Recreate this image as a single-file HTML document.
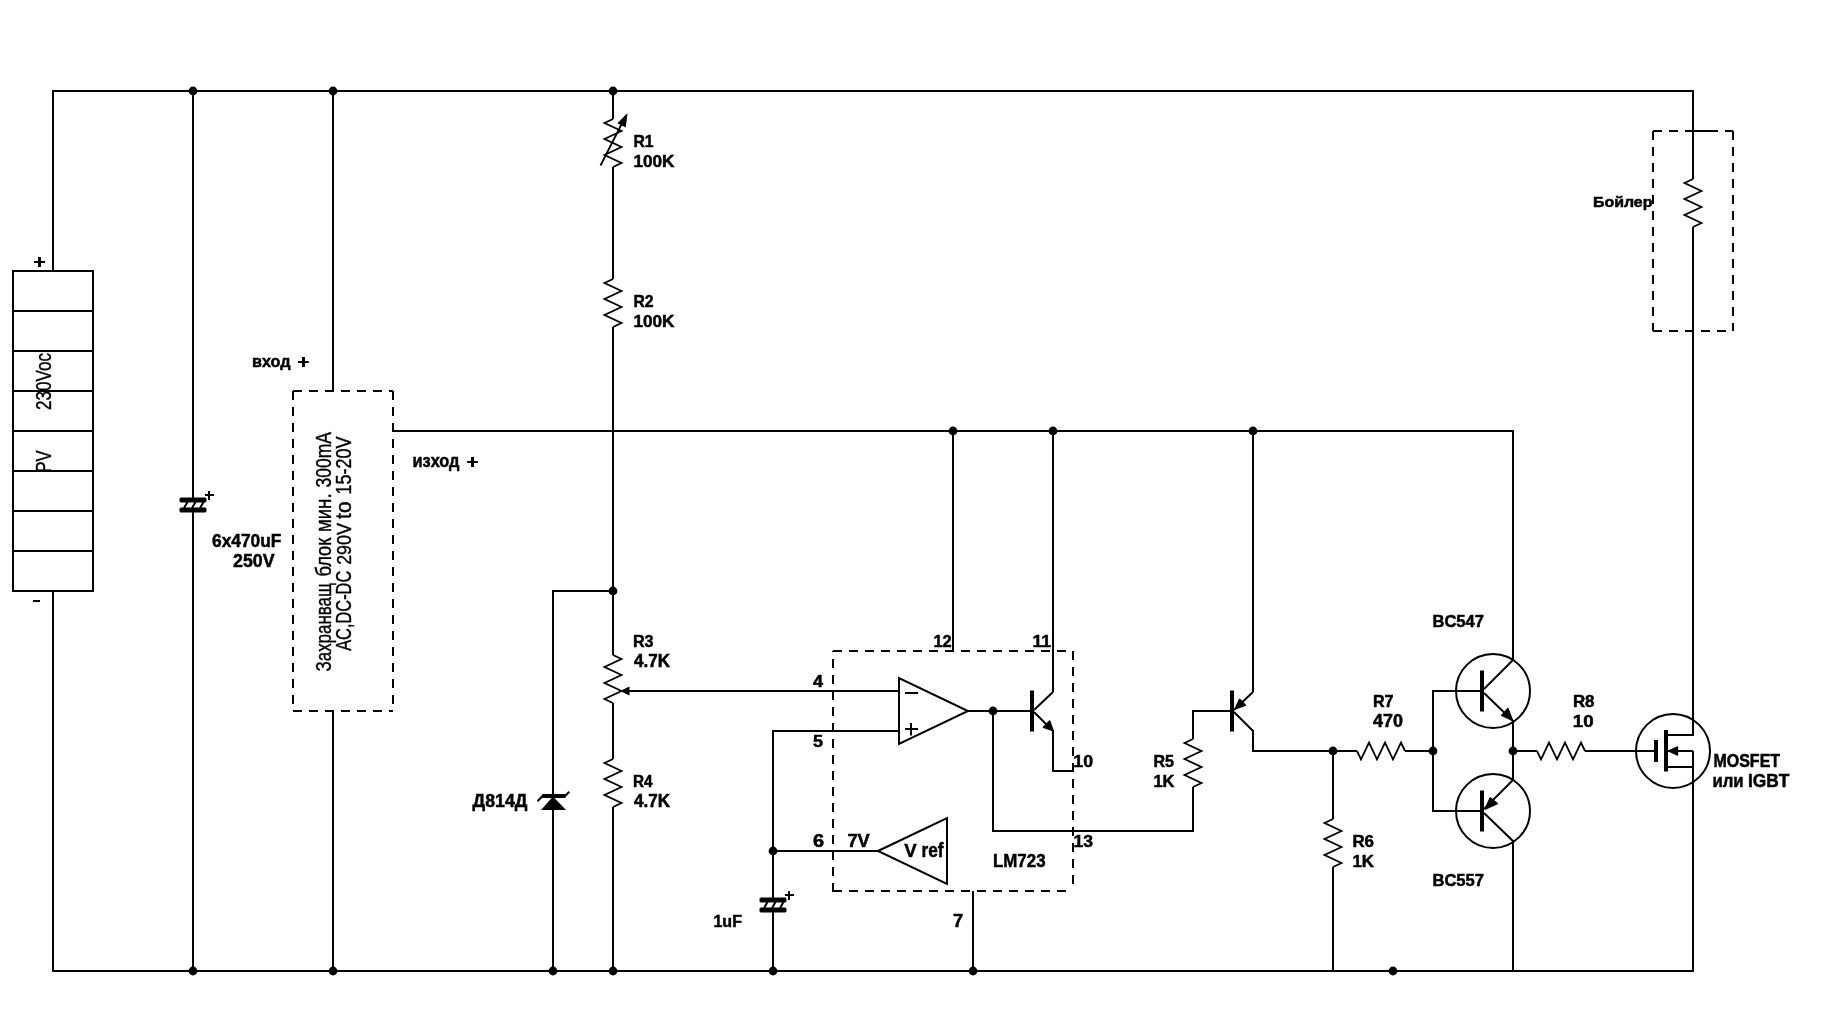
<!DOCTYPE html>
<html><head><meta charset="utf-8"><title>schematic</title>
<style>
html,body{margin:0;padding:0;background:#fff;}
svg{display:block;filter:grayscale(1);}
text{font-family:"Liberation Sans", sans-serif;fill:#000;}
</style></head><body>
<svg width="1829" height="1029" viewBox="0 0 1829 1029">
<rect width="1829" height="1029" fill="#fff"/>
<g stroke="#000" fill="none" stroke-linecap="butt">
<path d="M53,271 V91 H1693 V179" stroke-width="2" fill="none" shape-rendering="crispEdges" />
<path d="M53,591 V971 H1693 V751" stroke-width="2" fill="none" shape-rendering="crispEdges" />
<path d="M1693,227 V735 H1668" stroke-width="2" fill="none" shape-rendering="crispEdges" />
<line x1="1668" y1="751" x2="1693" y2="751" stroke-width="2" shape-rendering="crispEdges"/>
<line x1="1668" y1="767" x2="1693" y2="767" stroke-width="2" shape-rendering="crispEdges"/>
<rect x="13" y="271" width="80" height="320" fill="none" stroke-width="2" shape-rendering="crispEdges"/>
<line x1="13" y1="311" x2="93" y2="311" stroke-width="2" shape-rendering="crispEdges"/>
<line x1="13" y1="351" x2="93" y2="351" stroke-width="2" shape-rendering="crispEdges"/>
<line x1="13" y1="391" x2="93" y2="391" stroke-width="2" shape-rendering="crispEdges"/>
<line x1="13" y1="431" x2="93" y2="431" stroke-width="2" shape-rendering="crispEdges"/>
<line x1="13" y1="471" x2="93" y2="471" stroke-width="2" shape-rendering="crispEdges"/>
<line x1="13" y1="511" x2="93" y2="511" stroke-width="2" shape-rendering="crispEdges"/>
<line x1="13" y1="551" x2="93" y2="551" stroke-width="2" shape-rendering="crispEdges"/>
<rect x="34" y="261" width="11" height="2" fill="#000" stroke="none"/>
<rect x="38" y="257" width="3" height="10" fill="#000" stroke="none"/>
<rect x="33" y="600" width="7" height="2" fill="#000" stroke="none"/>
<line x1="193" y1="91" x2="193" y2="498" stroke-width="2" shape-rendering="crispEdges"/>
<line x1="193" y1="512" x2="193" y2="971" stroke-width="2" shape-rendering="crispEdges"/>
<rect x="180" y="498" width="26" height="4" rx="0.8" fill="#000"/>
<rect x="180" y="508" width="26" height="4" rx="0.8" fill="#000"/>
<line x1="184" y1="508.3" x2="187.6" y2="501.7" stroke-width="2"/>
<line x1="192" y1="508.3" x2="195.6" y2="501.7" stroke-width="2"/>
<line x1="200" y1="508.3" x2="203.6" y2="501.7" stroke-width="2"/>
<rect x="205" y="494" width="9" height="2" fill="#000" stroke="none"/>
<rect x="208" y="491" width="2" height="9" fill="#000" stroke="none"/>
<line x1="333" y1="91" x2="333" y2="391" stroke-width="2" shape-rendering="crispEdges"/>
<line x1="333" y1="711" x2="333" y2="971" stroke-width="2" shape-rendering="crispEdges"/>
<line x1="293" y1="391" x2="393" y2="391" stroke-width="2" stroke-dasharray="9 7" stroke-dashoffset="0" shape-rendering="crispEdges"/>
<line x1="293" y1="711" x2="393" y2="711" stroke-width="2" stroke-dasharray="9 7" stroke-dashoffset="0" shape-rendering="crispEdges"/>
<line x1="293" y1="391" x2="293" y2="711" stroke-width="2" stroke-dasharray="9 7" stroke-dashoffset="0" shape-rendering="crispEdges"/>
<line x1="393" y1="391" x2="393" y2="711" stroke-width="2" stroke-dasharray="9 7" stroke-dashoffset="0" shape-rendering="crispEdges"/>
<path d="M393,431 H1513 V660" stroke-width="2" fill="none" shape-rendering="crispEdges" />
<line x1="613" y1="91" x2="613" y2="119" stroke-width="2" shape-rendering="crispEdges"/>
<path d="M613,119 L604.5,123 L621.5,131 L604.5,139 L621.5,147 L604.5,155 L621.5,163 L613,167" stroke-width="1.8" fill="none" stroke-linejoin="miter"/>
<line x1="613" y1="167" x2="613" y2="279" stroke-width="2" shape-rendering="crispEdges"/>
<path d="M613,279 L604.5,283 L621.5,291 L604.5,299 L621.5,307 L604.5,315 L621.5,323 L613,327" stroke-width="1.8" fill="none" stroke-linejoin="miter"/>
<line x1="613" y1="327" x2="613" y2="655" stroke-width="2" shape-rendering="crispEdges"/>
<path d="M613,655 L621.5,659 L604.5,667 L621.5,675 L604.5,683 L621.5,691 L604.5,699 L613,703" stroke-width="1.8" fill="none" stroke-linejoin="miter"/>
<line x1="613" y1="703" x2="613" y2="759" stroke-width="2" shape-rendering="crispEdges"/>
<path d="M613,759 L604.5,763 L621.5,771 L604.5,779 L621.5,787 L604.5,795 L621.5,803 L613,807" stroke-width="1.8" fill="none" stroke-linejoin="miter"/>
<line x1="613" y1="807" x2="613" y2="971" stroke-width="2" shape-rendering="crispEdges"/>
<line x1="600.5" y1="165.5" x2="625.5" y2="116.5" stroke-width="1.8"/>
<polygon points="627.6,113 617.4,123.2 625.7,127.6" fill="#000" stroke="none"/>
<path d="M613,591 H553 V794" stroke-width="2" fill="none" shape-rendering="crispEdges" />
<line x1="553" y1="810" x2="553" y2="971" stroke-width="2" shape-rendering="crispEdges"/>
<rect x="542.5" y="794" width="23" height="4" fill="#000" stroke="none"/>
<line x1="537.5" y1="801.2" x2="543.5" y2="795" stroke-width="2"/>
<line x1="564.5" y1="796.5" x2="569.3" y2="791.7" stroke-width="2"/>
<polygon points="553,796.5 541,810 566,810" fill="#000" stroke="none"/>
<line x1="629" y1="691" x2="899" y2="691" stroke-width="2" shape-rendering="crispEdges"/>
<polygon points="620,691 629.5,686.5 629.5,695.5" fill="#000" stroke="none"/>
<path d="M899,731 H773 V898" stroke-width="2" fill="none" shape-rendering="crispEdges" />
<line x1="773" y1="912" x2="773" y2="971" stroke-width="2" shape-rendering="crispEdges"/>
<rect x="760" y="898" width="26" height="4" rx="0.8" fill="#000"/>
<rect x="760" y="908" width="26" height="4" rx="0.8" fill="#000"/>
<line x1="764" y1="908.3" x2="767.6" y2="901.7" stroke-width="2"/>
<line x1="772" y1="908.3" x2="775.6" y2="901.7" stroke-width="2"/>
<line x1="780" y1="908.3" x2="783.6" y2="901.7" stroke-width="2"/>
<rect x="785" y="894" width="9" height="2" fill="#000" stroke="none"/>
<rect x="788" y="891" width="2" height="9" fill="#000" stroke="none"/>
<line x1="773" y1="851" x2="878" y2="851" stroke-width="2" shape-rendering="crispEdges"/>
<polygon points="899,678 899,744 968,711" fill="none" stroke="#000" stroke-width="2" stroke-linejoin="miter"/>
<rect x="905" y="692" width="13" height="2" fill="#000" stroke="none"/>
<rect x="905" y="728" width="13" height="2" fill="#000" stroke="none"/>
<rect x="910" y="723" width="2" height="12.5" fill="#000" stroke="none"/>
<line x1="968" y1="711" x2="1030" y2="711" stroke-width="2" shape-rendering="crispEdges"/>
<polygon points="878,851 947,818 947,884" fill="none" stroke="#000" stroke-width="2" stroke-linejoin="miter"/>
<path d="M993,711 V831 H1193 V787" stroke-width="2" fill="none" shape-rendering="crispEdges" />
<path d="M1193,739 L1184.5,743 L1201.5,751 L1184.5,759 L1201.5,767 L1184.5,775 L1201.5,783 L1193,787" stroke-width="1.8" fill="none" stroke-linejoin="miter"/>
<path d="M1193,739 V711 H1230" stroke-width="2" fill="none" shape-rendering="crispEdges" />
<rect x="1030" y="690.5" width="4" height="41" fill="#000" stroke="none"/>
<line x1="1034" y1="710" x2="1053" y2="692" stroke-width="2"/>
<line x1="1053" y1="431" x2="1053" y2="692" stroke-width="2" shape-rendering="crispEdges"/>
<line x1="1034" y1="712" x2="1053" y2="731" stroke-width="2"/>
<path d="M1053,730 V771 H1073" stroke-width="2" fill="none" shape-rendering="crispEdges" />
<polygon points="1053,730.5 1043.5,727.2 1049.6,721.1" fill="#000" stroke="#000" stroke-width="1.6" stroke-linejoin="round"/>
<line x1="953" y1="431" x2="953" y2="651" stroke-width="2" shape-rendering="crispEdges"/>
<line x1="973" y1="891" x2="973" y2="971" stroke-width="2" shape-rendering="crispEdges"/>
<line x1="833" y1="651" x2="1073" y2="651" stroke-width="2" stroke-dasharray="9 7" stroke-dashoffset="0" shape-rendering="crispEdges"/>
<line x1="1073" y1="651" x2="1073" y2="891" stroke-width="2" stroke-dasharray="9 7" stroke-dashoffset="0" shape-rendering="crispEdges"/>
<line x1="833" y1="891" x2="1073" y2="891" stroke-width="2" stroke-dasharray="9 7" stroke-dashoffset="0" shape-rendering="crispEdges"/>
<line x1="833" y1="892" x2="833" y2="651" stroke-width="2" stroke-dasharray="9 7" stroke-dashoffset="0" shape-rendering="crispEdges"/>
<rect x="1230" y="690.5" width="4" height="41" fill="#000" stroke="none"/>
<line x1="1253" y1="692" x2="1234" y2="710" stroke-width="2"/>
<line x1="1253" y1="431" x2="1253" y2="692" stroke-width="2" shape-rendering="crispEdges"/>
<line x1="1234" y1="712" x2="1253" y2="731" stroke-width="2"/>
<path d="M1253,730 V751 H1357" stroke-width="2" fill="none" shape-rendering="crispEdges" />
<polygon points="1235.3,708.8 1239.6,699.4 1245.4,705.3" fill="#000" stroke="#000" stroke-width="1.6" stroke-linejoin="round"/>
<line x1="1333" y1="751" x2="1333" y2="819" stroke-width="2" shape-rendering="crispEdges"/>
<path d="M1333,819 L1324.5,823 L1341.5,831 L1324.5,839 L1341.5,847 L1324.5,855 L1341.5,863 L1333,867" stroke-width="1.8" fill="none" stroke-linejoin="miter"/>
<line x1="1333" y1="867" x2="1333" y2="971" stroke-width="2" shape-rendering="crispEdges"/>
<path d="M1357,751 L1361,759.5 L1369,742.5 L1377,759.5 L1385,742.5 L1393,759.5 L1401,742.5 L1405,751" stroke-width="1.8" fill="none" stroke-linejoin="miter"/>
<line x1="1405" y1="751" x2="1433" y2="751" stroke-width="2" shape-rendering="crispEdges"/>
<path d="M1480,691 H1433 V811 H1480" stroke-width="2" fill="none" shape-rendering="crispEdges" />
<circle cx="1493" cy="691" r="37" fill="none" stroke-width="2"/>
<rect x="1480" y="670.5" width="4" height="41" fill="#000" stroke="none"/>
<line x1="1484" y1="689" x2="1513" y2="660" stroke-width="2"/>
<line x1="1484" y1="693" x2="1513" y2="721" stroke-width="2"/>
<polygon points="1512.5,720.3 1501.6,715.4 1507.9,708.6" fill="#000" stroke="#000" stroke-width="1.4" stroke-linejoin="round"/>
<line x1="1513" y1="720" x2="1513" y2="780" stroke-width="2" shape-rendering="crispEdges"/>
<circle cx="1493" cy="811" r="37" fill="none" stroke-width="2"/>
<rect x="1480" y="790.5" width="4" height="41" fill="#000" stroke="none"/>
<line x1="1513" y1="780" x2="1484" y2="809" stroke-width="2"/>
<line x1="1484" y1="813" x2="1513" y2="841" stroke-width="2"/>
<polygon points="1485.2,809 1490.2,797.9 1497.4,803.5" fill="#000" stroke="#000" stroke-width="1.4" stroke-linejoin="round"/>
<line x1="1513" y1="840" x2="1513" y2="971" stroke-width="2" shape-rendering="crispEdges"/>
<line x1="1513" y1="751" x2="1537" y2="751" stroke-width="2" shape-rendering="crispEdges"/>
<path d="M1537,751 L1541,759.5 L1549,742.5 L1557,759.5 L1565,742.5 L1573,759.5 L1581,742.5 L1585,751" stroke-width="1.8" fill="none" stroke-linejoin="miter"/>
<line x1="1585" y1="751" x2="1654" y2="751" stroke-width="2" shape-rendering="crispEdges"/>
<circle cx="1673" cy="751" r="37" fill="none" stroke-width="2"/>
<rect x="1654" y="740" width="4" height="22" fill="#000" stroke="none"/>
<rect x="1664" y="730" width="4" height="41.5" fill="#000" stroke="none"/>
<polygon points="1669,751 1677.5,747 1677.5,755" fill="#000" stroke="#000" stroke-width="1.4" stroke-linejoin="round"/>
<path d="M1693,179 L1684.5,183 L1701.5,191 L1684.5,199 L1701.5,207 L1684.5,215 L1701.5,223 L1693,227" stroke-width="1.8" fill="none" stroke-linejoin="miter"/>
<line x1="1653" y1="131" x2="1662" y2="131" stroke-width="2" shape-rendering="crispEdges"/>
<line x1="1669" y1="131" x2="1678" y2="131" stroke-width="2" shape-rendering="crispEdges"/>
<line x1="1685" y1="131" x2="1717.5" y2="131" stroke-width="2" shape-rendering="crispEdges"/>
<line x1="1724.5" y1="131" x2="1733" y2="131" stroke-width="2" shape-rendering="crispEdges"/>
<line x1="1653" y1="331" x2="1733" y2="331" stroke-width="2" stroke-dasharray="9 7" stroke-dashoffset="0" shape-rendering="crispEdges"/>
<line x1="1653" y1="131" x2="1653" y2="331" stroke-width="2" stroke-dasharray="9 7" stroke-dashoffset="0" shape-rendering="crispEdges"/>
<line x1="1733" y1="131" x2="1733" y2="331" stroke-width="2" stroke-dasharray="9 7" stroke-dashoffset="0" shape-rendering="crispEdges"/>
<circle cx="193" cy="91" r="4.4" fill="#000" stroke="none"/>
<circle cx="333" cy="91" r="4.4" fill="#000" stroke="none"/>
<circle cx="613" cy="91" r="4.4" fill="#000" stroke="none"/>
<circle cx="193" cy="971" r="4.4" fill="#000" stroke="none"/>
<circle cx="333" cy="971" r="4.4" fill="#000" stroke="none"/>
<circle cx="553" cy="971" r="4.4" fill="#000" stroke="none"/>
<circle cx="613" cy="971" r="4.4" fill="#000" stroke="none"/>
<circle cx="773" cy="971" r="4.4" fill="#000" stroke="none"/>
<circle cx="973" cy="971" r="4.4" fill="#000" stroke="none"/>
<circle cx="1393" cy="971" r="4.4" fill="#000" stroke="none"/>
<circle cx="613" cy="591" r="4.4" fill="#000" stroke="none"/>
<circle cx="953" cy="431" r="4.4" fill="#000" stroke="none"/>
<circle cx="1053" cy="431" r="4.4" fill="#000" stroke="none"/>
<circle cx="1253" cy="431" r="4.4" fill="#000" stroke="none"/>
<circle cx="773" cy="851" r="4.4" fill="#000" stroke="none"/>
<circle cx="993" cy="711" r="4.4" fill="#000" stroke="none"/>
<circle cx="1333" cy="751" r="4.4" fill="#000" stroke="none"/>
<circle cx="1433" cy="751" r="4.4" fill="#000" stroke="none"/>
<circle cx="1513" cy="751" r="4.4" fill="#000" stroke="none"/>
<text transform="translate(50.9,410.025) rotate(-90) scale(0.7736,1)" font-size="22.109" style="font-weight:normal;font-style:normal;stroke-width:0.4">230Voc</text>
<text transform="translate(50.9,472.569) rotate(-90) scale(0.7376,1)" font-size="22.429" style="font-weight:normal;font-style:normal;stroke-width:0.4">PV</text>
<text transform="translate(331,671.498) rotate(-90) scale(0.7906,1)" font-size="21.429" style="font-weight:normal;font-style:normal;stroke-width:0.4">Захранващ</text>
<text transform="translate(331,576.551) rotate(-90) scale(0.8054,1)" font-size="22.830" style="font-weight:normal;font-style:normal;stroke-width:0.4">блок</text>
<text transform="translate(331,532.103) rotate(-90) scale(0.8171,1)" font-size="22.830" style="font-weight:normal;font-style:normal;stroke-width:0.4">мин.</text>
<text transform="translate(331,487.527) rotate(-90) scale(0.8143,1)" font-size="21.524" style="font-weight:normal;font-style:normal;stroke-width:0.4">300mA</text>
<text transform="translate(351,650.811) rotate(-90) scale(0.7751,1)" font-size="21.143" style="font-weight:normal;font-style:normal;stroke-width:0.4">AC,DC-DC</text>
<text transform="translate(351,564.847) rotate(-90) scale(0.8485,1)" font-size="21.143" style="font-weight:normal;font-style:normal;stroke-width:0.4">290V</text>
<text transform="translate(351,518.906) rotate(-90) scale(0.9305,1)" font-size="22.453" style="font-weight:normal;font-style:normal;stroke-width:0.4">to</text>
<text transform="translate(351,494.441) rotate(-90) scale(0.8489,1)" font-size="21.143" style="font-weight:normal;font-style:normal;stroke-width:0.4">15-20V</text>
<text transform="translate(211.985,547) scale(0.9348,1)" font-size="18.571" style="font-weight:bold;font-style:normal;stroke-width:0.5">6x470uF</text>
<text transform="translate(233.000,567) scale(0.9927,1)" font-size="17.919" style="font-weight:bold;font-style:normal;stroke-width:0.5">250V</text>
<text transform="translate(251.983,366.8) scale(0.9342,1)" font-size="17.328" style="font-weight:bold;font-style:normal;stroke-width:0.5">вход</text>
<rect x="298" y="361" width="10.7" height="2" fill="#000" stroke="none"/>
<rect x="302" y="357" width="3" height="10" fill="#000" stroke="none"/>
<text transform="translate(412.472,466.7) scale(0.9110,1)" font-size="17.963" style="font-weight:bold;font-style:normal;stroke-width:0.5">изход</text>
<rect x="467.1" y="461" width="10.7" height="2" fill="#000" stroke="none"/>
<rect x="471" y="457" width="3" height="10" fill="#000" stroke="none"/>
<text transform="translate(633.399,147) scale(0.9388,1)" font-size="16.783" style="font-weight:bold;font-style:normal;stroke-width:0.5">R1</text>
<text transform="translate(633.472,167) scale(0.9905,1)" font-size="17.343" style="font-weight:bold;font-style:normal;stroke-width:0.5">100K</text>
<text transform="translate(633.410,307) scale(0.9524,1)" font-size="16.543" style="font-weight:bold;font-style:normal;stroke-width:0.5">R2</text>
<text transform="translate(633.472,327) scale(0.9905,1)" font-size="17.343" style="font-weight:bold;font-style:normal;stroke-width:0.5">100K</text>
<text transform="translate(632.911,647) scale(0.9765,1)" font-size="16.543" style="font-weight:bold;font-style:normal;stroke-width:0.5">R3</text>
<text transform="translate(633.940,667) scale(0.9718,1)" font-size="17.594" style="font-weight:bold;font-style:normal;stroke-width:0.5">4.7K</text>
<text transform="translate(632.926,787) scale(0.9119,1)" font-size="16.783" style="font-weight:bold;font-style:normal;stroke-width:0.5">R4</text>
<text transform="translate(633.940,807) scale(0.9718,1)" font-size="17.594" style="font-weight:bold;font-style:normal;stroke-width:0.5">4.7K</text>
<text transform="translate(472.502,806.5) scale(0.9832,1)" font-size="18.081" style="font-weight:bold;font-style:normal;stroke-width:0.5">Д814Д</text>
<text transform="translate(813.000,686.5) scale(1.0676,1)" font-size="16.878" style="font-weight:bold;font-style:normal;stroke-width:0.5">4</text>
<text transform="translate(813.000,746.5) scale(1.0719,1)" font-size="16.809" style="font-weight:bold;font-style:normal;stroke-width:0.5">5</text>
<text transform="translate(813.000,846.5) scale(1.1084,1)" font-size="18.081" style="font-weight:bold;font-style:normal;stroke-width:0.5">6</text>
<text transform="translate(847.382,846.6) scale(0.9906,1)" font-size="18.493" style="font-weight:bold;font-style:normal;stroke-width:0.5">7V</text>
<text transform="translate(904.285,856.6) scale(1.0126,1)" font-size="18.409" style="font-weight:bold;font-style:normal;stroke-width:0.5">V</text>
<text transform="translate(921.465,856.6) scale(0.8856,1)" font-size="19.484" style="font-weight:bold;font-style:normal;stroke-width:0.5">ref</text>
<text transform="translate(933.425,646.5) scale(0.9909,1)" font-size="16.569" style="font-weight:bold;font-style:normal;stroke-width:0.5">12</text>
<text transform="translate(1032.382,646.5) scale(1.0499,1)" font-size="16.809" style="font-weight:bold;font-style:normal;stroke-width:0.5">11</text>
<text transform="translate(1073.348,766.5) scale(1.0242,1)" font-size="17.353" style="font-weight:bold;font-style:normal;stroke-width:0.5">10</text>
<text transform="translate(1073.390,846.5) scale(1.0203,1)" font-size="17.314" style="font-weight:bold;font-style:normal;stroke-width:0.5">13</text>
<text transform="translate(992.967,866.7) scale(0.9243,1)" font-size="18.287" style="font-weight:bold;font-style:normal;stroke-width:0.5">LM723</text>
<text transform="translate(953.000,926.5) scale(1.0457,1)" font-size="17.456" style="font-weight:bold;font-style:normal;stroke-width:0.5">7</text>
<text transform="translate(713.451,926.8) scale(0.9318,1)" font-size="17.236" style="font-weight:bold;font-style:normal;stroke-width:0.5">1uF</text>
<text transform="translate(1153.402,766.5) scale(0.9546,1)" font-size="16.878" style="font-weight:bold;font-style:normal;stroke-width:0.5">R5</text>
<text transform="translate(1153.445,786.7) scale(0.9725,1)" font-size="16.957" style="font-weight:bold;font-style:normal;stroke-width:0.5">1K</text>
<text transform="translate(1352.385,847) scale(1.0149,1)" font-size="16.639" style="font-weight:bold;font-style:normal;stroke-width:0.5">R6</text>
<text transform="translate(1352.385,866.8) scale(0.9757,1)" font-size="17.307" style="font-weight:bold;font-style:normal;stroke-width:0.5">1K</text>
<text transform="translate(1372.908,706.5) scale(0.9596,1)" font-size="16.809" style="font-weight:bold;font-style:normal;stroke-width:0.5">R7</text>
<text transform="translate(1373.000,726.8) scale(1.0127,1)" font-size="17.739" style="font-weight:bold;font-style:normal;stroke-width:0.5">470</text>
<text transform="translate(1572.903,706.6) scale(1.0129,1)" font-size="16.710" style="font-weight:bold;font-style:normal;stroke-width:0.5">R8</text>
<text transform="translate(1572.869,726.7) scale(1.1056,1)" font-size="16.917" style="font-weight:bold;font-style:normal;stroke-width:0.5">10</text>
<text transform="translate(1432.448,626.8) scale(0.9707,1)" font-size="17.060" style="font-weight:bold;font-style:normal;stroke-width:0.5">BC547</text>
<text transform="translate(1432.448,886.3) scale(1.0190,1)" font-size="16.250" style="font-weight:bold;font-style:normal;stroke-width:0.5">BC557</text>
<text transform="translate(1713.476,766.7) scale(0.9135,1)" font-size="17.491" style="font-weight:bold;font-style:normal;stroke-width:0.5">MOSFET</text>
<text transform="translate(1712.410,786.8) scale(0.8908,1)" font-size="18.744" style="font-weight:bold;font-style:normal;stroke-width:0.5">или</text>
<text transform="translate(1747.985,786.8) scale(0.9795,1)" font-size="17.739" style="font-weight:bold;font-style:normal;stroke-width:0.5">IGBT</text>
<text transform="translate(1592.979,206.8) scale(1.0874,1)" font-size="14.662" style="font-weight:bold;font-style:normal;stroke-width:0.5">Бойлер</text>
</g>
</svg>
</body></html>
